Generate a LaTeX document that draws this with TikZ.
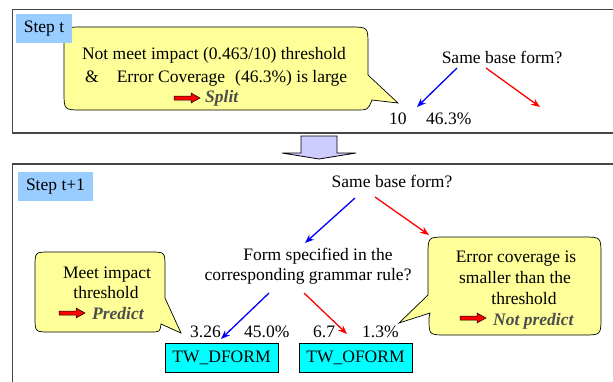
\documentclass[tikz,border=0pt]{standalone}
\usepackage{fontspec}
\setmainfont{Liberation Serif}
\usetikzlibrary{arrows.meta}
\definecolor{stepblue}{RGB}{153,204,255}
\definecolor{callfill}{RGB}{255,255,153}
\definecolor{bigarr}{RGB}{204,204,255}
\definecolor{txtgray}{RGB}{77,77,77}
\definecolor{framegray}{RGB}{70,70,70}
\definecolor{boxcyan}{RGB}{0,255,255}
\begin{document}
\begin{tikzpicture}[x=1pt,y=-1pt,
  font=\rmfamily\fontsize{17.5}{21}\selectfont,
  frame/.style={draw=framegray, line width=1.2pt},
  stepbox/.style={fill=stepblue, inner sep=0pt, minimum height=29pt},
  callshape/.style={fill=callfill, draw=black, line width=0.7pt},
  lbl/.style={inner sep=0pt, anchor=base},
  lblw/.style={inner sep=0pt, anchor=base west},
  note/.style={inner sep=0pt, anchor=base west, font=\rmfamily\fontsize{17.5}{21}\selectfont\bfseries\itshape, text=txtgray},
  bluearr/.style={draw=blue, line width=1.3pt, -{Stealth[length=9pt,width=7pt]}},
  redarr/.style={draw=red, line width=1.3pt, -{Stealth[length=9pt,width=7pt]}},
  catbox/.style={fill=boxcyan, draw=black, line width=0.8pt, minimum width=113pt, minimum height=29pt, inner sep=0pt},
  redblk/.pic={\draw[fill=red, draw=black, line width=0.5pt] (0,-2) -- (17,-2) -- (17,-5) -- (26,0) -- (17,5) -- (17,2) -- (0,2) -- cycle;}
]
\useasboundingbox (0,0) rectangle (613,381);
\clip (0,0) rectangle (613,381);
\fill[white] (0,0) rectangle (613,381);

% frames
\draw[frame] (12.5,9.5) rectangle (640,133);
\draw[frame] (12.5,164) rectangle (640,400);

% big arrow between steps
\draw[fill=bigarr, draw=black, line width=0.8pt]
  (301,136) -- (337,136) -- (337,153) -- (356,153) -- (319,159) -- (282,153) -- (301,153) -- cycle;

% ---------- Step t ----------
\draw[callshape] (82,27) -- (350,27) .. controls (368,27) .. (368,45) -- (368,75)
  -- (398,103) -- (372,100) .. controls (368,110) .. (355,110) -- (82,110)
  .. controls (64,110) .. (64,92) -- (64,45) .. controls (64,27) .. (82,27) -- cycle;

\node[stepbox, minimum width=56pt] (stept) at (44,28.5) {Step t};

\node[lbl] (c1a) at (214,59) {Not meet impact (0.463/10) threshold};
\node[lblw] (c1b) at (85,82) {\&\hspace{18pt}Error Coverage\hspace{10pt}(46.3\%) is large};
\pic at (174,98) {redblk};
\node[note] (split) at (205,102) {Split};

\node[lbl] (q1) at (502,63) {Same base form?};
\node[lblw] (n10) at (389,124) {10};
\node[lblw] (p463) at (426,124) {46.3\%};
\coordinate (q1bs) at (457,68);
\coordinate (q1be) at (417,107);
\coordinate (q1rs) at (486,68);
\coordinate (q1re) at (540,107);
\draw[bluearr] (q1bs) -- (q1be);
\draw[redarr] (q1rs) -- (q1re);

% ---------- Step t+1 ----------
\node[stepbox, minimum width=75pt] (steptt) at (55.5,186.5) {Step t+1};

\node[lbl] (q2) at (392,187) {Same base form?};
\node[lbl] (f1) at (318,260) {Form specified in the};
\node[lbl] (f2) at (308,280) {corresponding grammar rule?};

\coordinate (q2bs) at (355,198);
\coordinate (q2be) at (305,243);
\coordinate (q2rs) at (375,197);
\coordinate (q2re) at (429,235);
\draw[bluearr] (q2bs) -- (q2be);
\draw[redarr] (q2rs) -- (q2re);

\coordinate (f2bs) at (269,293);
\coordinate (f2be) at (221,339);
\coordinate (f2rs) at (304,293);
\coordinate (f2re) at (347,334);
\draw[bluearr] (f2bs) -- (f2be);
\draw[redarr] (f2rs) -- (f2re);

\node[lblw] (v326) at (190,337) {3.26};
\node[lblw] (v450) at (244,337) {45.0\%};
\node[lblw] (v67) at (313,337) {6.7};
\node[lblw] (v13) at (362,337) {1.3\%};

\node[catbox] (dform) at (221.5,357.5) {TW\_DFORM};
\node[catbox] (oform) at (355.5,357.5) {TW\_OFORM};

% left callout
\draw[callshape] (50,252) -- (150,252) .. controls (165,252) .. (165,267) -- (165,298)
  -- (181,333) -- (161,324) .. controls (160,332) .. (150,332) -- (50,332)
  .. controls (35,332) .. (35,317) -- (35,267) .. controls (35,252) .. (50,252) -- cycle;
\node[lbl] (m1) at (107,278) {Meet impact};
\node[lbl] (m2) at (106,298) {threshold};
\pic at (59,313) {redblk};
\node[note] (pred) at (92,319) {Predict};

% right callout
\draw[callshape] (446,237) -- (583,237) .. controls (601,237) .. (601,255) -- (601,317)
  .. controls (601,335) .. (583,335) -- (446,335) .. controls (429,335) .. (429,318)
  -- (430,313) -- (399,323) -- (428,295) -- (428,255) .. controls (428,237) .. (446,237) -- cycle;
\node[lbl] (e1) at (516,262) {Error coverage is};
\node[lbl] (e2) at (515,283) {smaller than the};
\node[lbl] (e3) at (524,304) {threshold};
\pic at (460,318) {redblk};
\node[note] (npred) at (493,325) {Not predict};
\end{tikzpicture}
\end{document}
